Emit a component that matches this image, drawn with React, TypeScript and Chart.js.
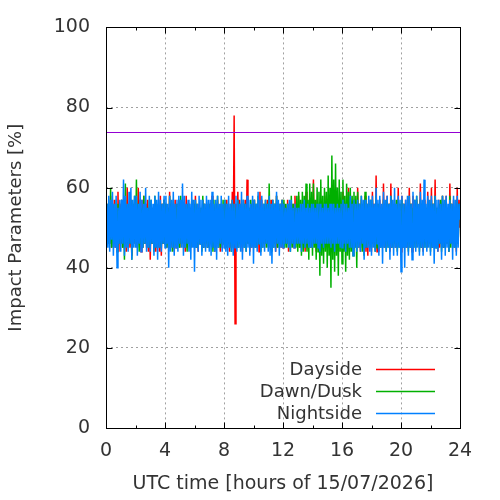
import React, { useEffect, useRef } from "react";
import { Chart, registerables } from "chart.js";

Chart.register(...registerables);

const X_MIN = 0;
const X_MAX = 24;
const X_STEP = 4;
const Y_MIN = 0;
const Y_MAX = 100;
const Y_STEP = 20;
const THRESHOLD = 74;

const X_TITLE = "UTC time [hours of 15/07/2026]";
const Y_TITLE = "Impact Parameters [%]";
const SERIES_NAMES = ["Dayside", "Dawn/Dusk", "Nightside"];
const SERIES_COLORS = ["#ff0000", "#00b000", "#0080ff"];

// samples every 3.75 minutes (16 per hour), 0h .. 24h
const dayside = [
  49, 56, 46, 55, 46, 58, 45, 56, 46, 57, 45, 55, 46, 59, 44, 56,
  46, 57, 45, 56, 46, 55, 44, 60, 46, 56, 45, 57, 43, 56, 46, 55,
  46, 56, 45, 60, 46, 55, 44, 57, 45, 58, 46, 56, 45, 57, 44, 55,
  42, 56, 46, 55, 45, 57, 44, 56, 45, 55, 44, 58, 43, 56, 46, 57,
  46, 56, 45, 55, 46, 59, 45, 56, 45, 55, 44, 57, 45, 56, 46, 55,
  45, 57, 46, 55, 45, 56, 44, 58, 45, 56, 46, 55, 45, 57, 46, 56,
  46, 58, 45, 55, 44, 56, 46, 55, 45, 57, 45, 56, 46, 55, 45, 56,
  45, 56, 46, 58, 45, 55, 44, 56, 45, 57, 46, 55, 44, 56, 45, 55,
  46, 56, 45, 57, 46, 55, 44, 56, 45, 59, 46, 78, 26, 56, 45, 59,
  46, 57, 45, 56, 44, 55, 46, 57, 45, 62, 46, 55, 44, 56, 45, 57,
  45, 57, 46, 55, 45, 56, 44, 59, 45, 57, 46, 55, 45, 56, 46, 57,
  46, 56, 45, 57, 45, 55, 46, 56, 44, 58, 45, 55, 46, 56, 45, 57,
  45, 56, 46, 55, 46, 57, 44, 56, 45, 55, 46, 56, 45, 58, 46, 55,
  46, 58, 45, 55, 45, 56, 46, 55, 44, 59, 45, 56, 46, 55, 45, 56,
  45, 62, 46, 55, 44, 57, 45, 56, 46, 55, 45, 56, 45, 55, 46, 58,
  46, 56, 45, 55, 45, 57, 46, 55, 44, 56, 45, 55, 46, 57, 45, 55,
  45, 59, 46, 56, 46, 55, 45, 60, 44, 56, 46, 55, 45, 57, 46, 56,
  46, 60, 45, 56, 44, 57, 46, 55, 45, 58, 44, 56, 43, 57, 46, 56,
  44, 59, 46, 56, 45, 63, 44, 56, 44, 57, 46, 55, 46, 61, 45, 56,
  45, 58, 46, 56, 44, 61, 45, 56, 46, 57, 45, 55, 45, 60, 46, 56,
  44, 58, 45, 56, 46, 57, 45, 55, 45, 60, 46, 56, 44, 58, 46, 56,
  45, 57, 46, 55, 46, 61, 45, 56, 44, 57, 46, 55, 45, 59, 46, 56,
  46, 60, 45, 56, 45, 62, 46, 55, 44, 57, 45, 56, 46, 58, 45, 56,
  45, 58, 46, 55, 44, 61, 46, 56, 45, 57, 46, 55, 44, 60, 46, 57,
  50,
];

const dawnDusk = [
  51, 56, 46, 55, 46, 60, 45, 56, 45, 55, 46, 57, 44, 56, 46, 55,
  46, 57, 45, 56, 42, 61, 46, 55, 45, 56, 46, 57, 42, 56, 46, 58,
  46, 62, 45, 56, 44, 57, 46, 55, 45, 58, 46, 56, 46, 55, 45, 57,
  45, 57, 46, 55, 44, 58, 45, 56, 46, 55, 45, 55, 45, 56, 46, 57,
  46, 56, 45, 55, 45, 58, 46, 56, 44, 57, 45, 55, 46, 56, 45, 57,
  45, 58, 46, 55, 46, 56, 45, 55, 44, 56, 46, 55, 45, 57, 46, 56,
  46, 57, 45, 56, 45, 55, 46, 55, 44, 58, 45, 56, 46, 55, 45, 56,
  45, 56, 46, 55, 44, 57, 45, 56, 46, 58, 45, 55, 45, 56, 46, 57,
  46, 57, 45, 56, 45, 55, 46, 55, 44, 57, 45, 56, 46, 55, 45, 57,
  45, 56, 46, 55, 46, 57, 45, 56, 44, 55, 46, 55, 45, 57, 46, 56,
  46, 57, 45, 56, 45, 58, 46, 55, 44, 55, 45, 56, 46, 57, 45, 56,
  45, 61, 46, 55, 44, 57, 45, 56, 46, 58, 45, 55, 45, 56, 46, 57,
  46, 57, 45, 56, 45, 56, 46, 55, 44, 58, 45, 56, 46, 55, 45, 58,
  44, 59, 45, 57, 43, 59, 44, 58, 45, 61, 44, 57, 42, 61, 45, 59,
  43, 61, 45, 57, 42, 60, 44, 59, 38, 62, 43, 58, 41, 60, 44, 59,
  40, 63, 43, 60, 35, 68, 42, 62, 39, 66, 43, 60, 38, 62, 44, 59,
  41, 62, 44, 58, 39, 61, 43, 59, 42, 60, 44, 58, 43, 59, 45, 58,
  40, 59, 46, 56, 45, 58, 44, 56, 43, 59, 45, 56, 46, 56, 45, 57,
  45, 57, 46, 55, 44, 58, 45, 56, 46, 55, 45, 55, 45, 57, 46, 56,
  44, 57, 45, 56, 46, 58, 45, 55, 45, 56, 46, 57, 44, 57, 45, 56,
  46, 57, 45, 56, 45, 55, 46, 55, 44, 58, 45, 56, 46, 55, 45, 57,
  45, 58, 46, 55, 44, 57, 45, 56, 46, 55, 45, 55, 45, 57, 46, 56,
  44, 57, 45, 56, 46, 58, 45, 55, 45, 56, 46, 57, 44, 58, 45, 56,
  45, 57, 46, 55, 44, 58, 45, 56, 46, 55, 45, 55, 45, 57, 46, 56,
  52,
];

const nightside = [
  48, 56, 45, 58, 44, 57, 47, 59, 43, 56, 45, 58, 40, 55, 46, 57,
  44, 57, 46, 62, 43, 58, 45, 56, 44, 59, 46, 60, 42, 57, 45, 58,
  45, 58, 43, 56, 46, 59, 44, 57, 45, 56, 46, 60, 44, 55, 45, 58,
  44, 57, 46, 56, 43, 58, 45, 57, 42, 59, 45, 57, 44, 56, 46, 58,
  45, 58, 46, 56, 40, 58, 44, 57, 45, 59, 43, 56, 45, 57, 44, 58,
  46, 57, 45, 61, 43, 58, 45, 56, 46, 57, 44, 56, 42, 59, 45, 57,
  39, 57, 45, 56, 44, 58, 46, 57, 43, 57, 45, 56, 44, 58, 45, 57,
  44, 57, 43, 59, 45, 56, 44, 57, 42, 58, 45, 56, 46, 58, 44, 56,
  45, 57, 44, 56, 43, 58, 45, 56, 44, 57, 43, 56, 45, 58, 44, 57,
  45, 56, 44, 59, 42, 57, 45, 56, 44, 58, 45, 57, 43, 56, 45, 58,
  41, 57, 45, 56, 44, 59, 46, 57, 43, 58, 45, 56, 44, 57, 46, 56,
  44, 58, 43, 56, 41, 57, 45, 56, 44, 59, 46, 57, 43, 56, 45, 57,
  45, 56, 46, 55, 46, 56, 45, 57, 44, 57, 46, 55, 45, 56, 46, 55,
  46, 55, 46, 56, 44, 56, 46, 57, 45, 55, 46, 56, 45, 55, 45, 56,
  45, 56, 46, 55, 46, 56, 45, 56, 44, 56, 46, 55, 45, 56, 46, 56,
  46, 55, 46, 56, 45, 56, 46, 56, 44, 55, 46, 56, 46, 55, 45, 56,
  45, 57, 46, 56, 44, 56, 46, 55, 45, 58, 45, 56, 43, 57, 45, 56,
  44, 57, 45, 56, 44, 58, 46, 57, 42, 57, 45, 56, 45, 58, 44, 57,
  43, 58, 45, 56, 44, 60, 46, 57, 43, 58, 45, 56, 41, 59, 45, 57,
  44, 58, 45, 56, 42, 58, 45, 57, 43, 60, 45, 56, 43, 58, 45, 57,
  39, 58, 45, 56, 40, 57, 45, 58, 43, 58, 45, 56, 42, 59, 45, 57,
  44, 58, 45, 56, 43, 59, 45, 57, 43, 62, 45, 56, 44, 58, 45, 57,
  43, 58, 45, 56, 41, 58, 45, 57, 44, 57, 46, 56, 42, 58, 45, 57,
  43, 58, 45, 56, 44, 57, 46, 56, 42, 58, 45, 57, 43, 58, 45, 56,
  52,
];

const SERIES_VALUES = [dayside, dawnDusk, nightside];

const FONT = "'DejaVu Sans', sans-serif";
const TICK_FONT_SIZE = 19;
const X_TITLE_FONT_SIZE = 19;
const Y_TITLE_FONT_SIZE = 18;
const LEGEND_FONT_SIZE = 18;
const TEXT_COLOR = "#333333";

function toPoints(values: number[]) {
  const step = (X_MAX - X_MIN) / (values.length - 1);
  return values.map((y, i) => ({ x: X_MIN + i * step, y }));
}

const framePlugin = {
  id: "gnuplotFrame",
  afterDatasetsDraw(chart: any) {
    const { ctx, chartArea: a, scales } = chart;
    const xs = scales.x;
    const ys = scales.y;
    ctx.save();

    // threshold line
    const ty = Math.round(ys.getPixelForValue(THRESHOLD)) + 0.5;
    ctx.strokeStyle = "#9400d3";
    ctx.lineWidth = 1;
    ctx.beginPath();
    ctx.moveTo(a.left, ty);
    ctx.lineTo(a.right, ty);
    ctx.stroke();

    // frame
    ctx.strokeStyle = "#000000";
    ctx.lineWidth = 1;
    const L = Math.round(a.left) + 0.5;
    const R = Math.round(a.right) + 0.5;
    const T = Math.round(a.top) + 0.5;
    const B = Math.round(a.bottom) + 0.5;
    ctx.strokeRect(L, T, R - L, B - T);

    // x ticks (major + minor), inward, bottom and top
    ctx.beginPath();
    for (let v = X_MIN; v <= X_MAX; v += X_STEP / 2) {
      const px = Math.round(xs.getPixelForValue(v)) + 0.5;
      const len = (v - X_MIN) % X_STEP === 0 ? 6 : 3;
      ctx.moveTo(px, B);
      ctx.lineTo(px, B - len);
      ctx.moveTo(px, T);
      ctx.lineTo(px, T + len);
    }
    // y ticks, inward, left and right
    for (let v = Y_MIN; v <= Y_MAX; v += Y_STEP) {
      const py = Math.round(ys.getPixelForValue(v)) + 0.5;
      ctx.moveTo(L, py);
      ctx.lineTo(L + 6, py);
      ctx.moveTo(R, py);
      ctx.lineTo(R - 6, py);
    }
    ctx.stroke();

    // legend
    ctx.font = `${LEGEND_FONT_SIZE}px ${FONT}`;
    ctx.textAlign = "right";
    ctx.textBaseline = "middle";
    const legendY0 = ys.getPixelForValue(14.75);
    const rowH = 22;
    SERIES_NAMES.forEach((name, i) => {
      const y = legendY0 + i * rowH;
      ctx.fillStyle = TEXT_COLOR;
      ctx.fillText(name, 362, y + 1);
      ctx.strokeStyle = SERIES_COLORS[i];
      ctx.lineWidth = 1.5;
      ctx.beginPath();
      ctx.moveTo(376, Math.round(y) + 0.5);
      ctx.lineTo(435, Math.round(y) + 0.5);
      ctx.stroke();
    });

    ctx.restore();
  },
};

export default function App() {
  const canvasRef = useRef<HTMLCanvasElement | null>(null);

  useEffect(() => {
    const canvas = canvasRef.current;
    if (!canvas) return;
    const drawOrder = [2, 1, 0]; // Nightside on top
    const chart = new Chart(canvas, {
      type: "line",
      data: {
        datasets: SERIES_VALUES.map((vals, i) => ({
          label: SERIES_NAMES[i],
          data: toPoints(vals),
          borderColor: SERIES_COLORS[i],
          backgroundColor: SERIES_COLORS[i],
          borderWidth: 1.5,
          pointRadius: 0,
          tension: 0,
          fill: false,
          order: drawOrder[i],
        })),
      },
      options: {
        animation: false,
        responsive: false,
        devicePixelRatio: 1,
        layout: { padding: { top: 26, right: 40, left: 0, bottom: 0 } },
        plugins: {
          legend: { display: false },
          tooltip: { enabled: false },
        },
        scales: {
          x: {
            type: "linear",
            min: X_MIN,
            max: X_MAX,
            afterFit: (scale: any) => {
              scale.height = 72;
            },
            ticks: {
              stepSize: X_STEP,
              padding: 12,
              color: TEXT_COLOR,
              font: { family: FONT, size: TICK_FONT_SIZE },
              maxRotation: 0,
            },
            grid: {
              drawTicks: false,
              lineWidth: 1,
              color: (c: any) =>
                c.tick && (c.tick.value === X_MIN || c.tick.value === X_MAX)
                  ? "rgba(0,0,0,0)"
                  : "#a0a0a0",
            },
            border: { display: false, dash: [2, 3] },
            title: {
              display: true,
              text: X_TITLE,
              color: TEXT_COLOR,
              font: { family: FONT, size: X_TITLE_FONT_SIZE },
              padding: { top: 0, bottom: 5 },
            },
          },
          y: {
            type: "linear",
            min: Y_MIN,
            max: Y_MAX,
            afterFit: (scale: any) => {
              scale.width = 106;
            },
            ticks: {
              stepSize: Y_STEP,
              padding: 16,
              color: TEXT_COLOR,
              font: { family: FONT, size: TICK_FONT_SIZE },
            },
            grid: {
              drawTicks: false,
              lineWidth: 1,
              color: (c: any) =>
                c.tick && (c.tick.value === Y_MIN || c.tick.value === Y_MAX)
                  ? "rgba(0,0,0,0)"
                  : "#a0a0a0",
            },
            border: { display: false, dash: [2, 3] },
            title: {
              display: true,
              text: Y_TITLE,
              color: TEXT_COLOR,
              font: { family: FONT, size: Y_TITLE_FONT_SIZE },
              padding: { top: 5.5, bottom: 0 },
            },
          },
        },
      },
      plugins: [framePlugin],
    });
    return () => chart.destroy();
  }, []);

  return (
    <div style={{ position: "absolute", left: 0, top: 0, width: 500, height: 500, background: "#fff" }}>
      <canvas ref={canvasRef} width={500} height={500} style={{ width: 500, height: 500, display: "block" }} />
    </div>
  );
}
